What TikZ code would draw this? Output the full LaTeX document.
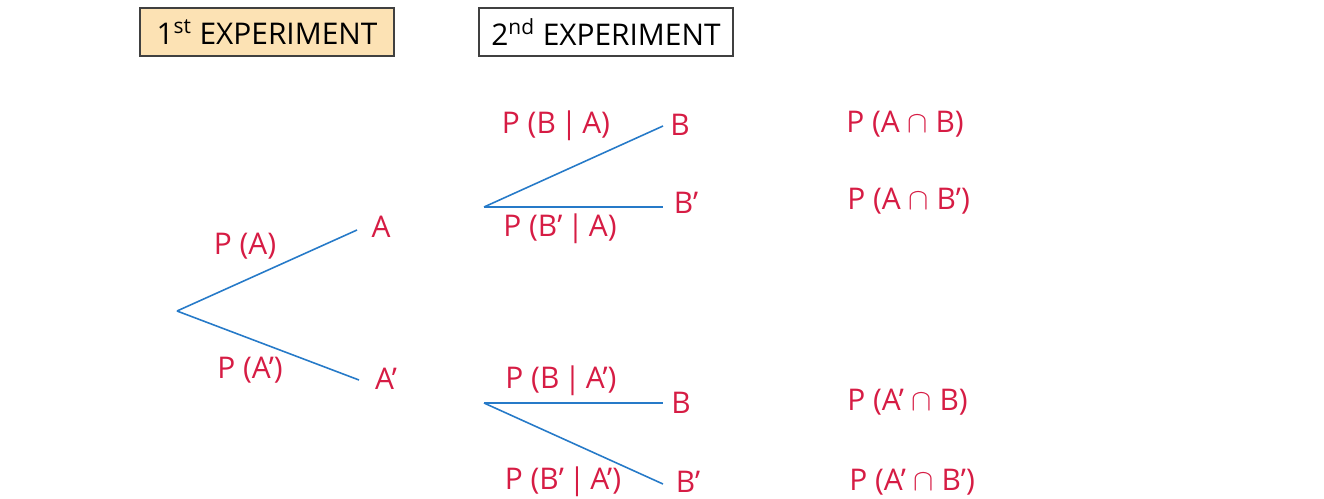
\documentclass[tikz,border=0pt]{standalone}
\usepackage{fontspec}
\setmainfont{Open Sans}
\usetikzlibrary{positioning}
\definecolor{probred}{RGB}{214,28,68}
\definecolor{branchblue}{RGB}{38,122,200}
\definecolor{boxfill}{RGB}{252,226,180}

\begin{document}
\begin{tikzpicture}[x=0.02cm,y=-0.02cm,
  expbox/.style={rectangle,draw=black!75,line width=0.9pt,minimum width=5.08cm,minimum height=0.96cm,align=center,font=\fontsize{17}{20}\selectfont},
  lbl/.style={text=probred,inner sep=0pt,font=\fontsize{17}{20}\selectfont},
  br/.style={draw=branchblue,line width=0.9pt}
]
  \useasboundingbox (0,0) rectangle (1324,498);
  % headers
  \node[expbox,fill=boxfill](exp1) at (267,32) {1\textsuperscript{st} EXPERIMENT};
  \node[expbox,fill=white]  (exp2) at (606,32) {2\textsuperscript{nd} EXPERIMENT};
  % first experiment
  \coordinate (root) at (177,311);
  \coordinate (ea)  at (357,230);
  \coordinate (ena) at (359,380);
  \node[lbl](a)   at (381,227) {A};
  \node[lbl](na)  at (386,379) {A’};
  \node[lbl](pa)  at (245,246) {P (A)};
  \node[lbl](pna) at (250,370) {P (A’)};
  \draw[br](root)--(ea);
  \draw[br](root)--(ena);
  % second experiment, after A
  \coordinate (ra)   at (484,207);
  \coordinate (eab)  at (663,126);
  \coordinate (eanb) at (663,207);
  \node[lbl](ab)   at (680,125) {B};
  \node[lbl](anb)  at (686,203) {B’};
  \node[lbl](pba)  at (556,126) {P (B\,|\,A)};
  \node[lbl](pnba) at (560,229) {P (B’\,|\,A)};
  \draw[br](ra)--(eab);
  \draw[br](ra)--(eanb);
  % second experiment, after A'
  \coordinate (rna)   at (484,403);
  \coordinate (enab)  at (663,403);
  \coordinate (enanb) at (663,484);
  \node[lbl](nab)   at (681,403) {B};
  \node[lbl](nanb)  at (688,482) {B’};
  \node[lbl](pbna)  at (561,381) {P (B\,|\,A’)};
  \node[lbl](pnbna) at (563,482) {P (B’\,|\,A’)};
  \draw[br](rna)--(enab);
  \draw[br](rna)--(enanb);
  % outcomes
  \node[lbl,anchor=west](oab)   at (846,124) {P (A $\cap$ B)};
  \node[lbl,anchor=west](oanb)  at (847,201) {P (A $\cap$ B’)};
  \node[lbl,anchor=west](onab)  at (847,402) {P (A’ $\cap$ B)};
  \node[lbl,anchor=west](onanb) at (849,482) {P (A’ $\cap$ B’)};
\end{tikzpicture}
\end{document}
